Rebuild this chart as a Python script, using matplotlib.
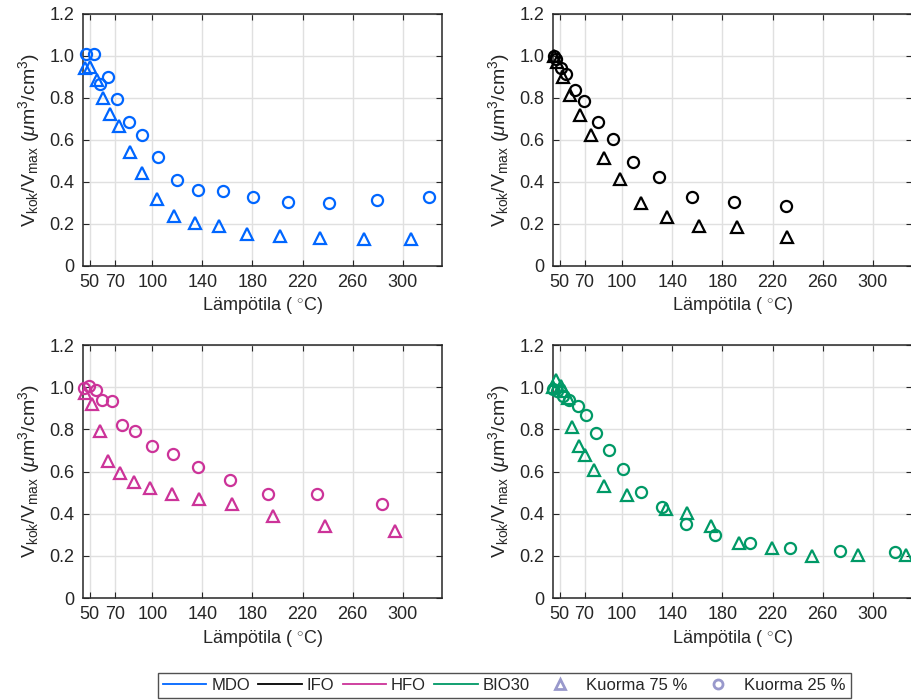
import matplotlib
matplotlib.use("Agg")
import matplotlib.pyplot as plt
from matplotlib.lines import Line2D

plt.rcParams["font.family"] = ["Liberation Sans", "DejaVu Sans"]
plt.rcParams["mathtext.fontset"] = "custom"
plt.rcParams["mathtext.rm"] = "Liberation Sans"
plt.rcParams["mathtext.it"] = "Liberation Sans:italic"

# ---- data ----
MDO_T75 = [46.6, 50, 55.9, 60.7, 66.6, 73.8, 82.6, 91.9, 103.9, 117.2, 134.3,
           153.5, 175.9, 202, 233.5, 268.7, 306.6]
MDO_V75 = [0.941, 0.949, 0.886, 0.802, 0.724, 0.668, 0.544, 0.444, 0.317, 0.238,
           0.206, 0.19, 0.151, 0.144, 0.135, 0.129, 0.129]
MDO_T25 = [47.4, 53.2, 58, 64.7, 71.9, 81.5, 91.9, 104.4, 119.4, 136.2, 156.4,
           180.7, 208.2, 241, 279.6, 320.5]
MDO_V25 = [1.008, 1.008, 0.865, 0.898, 0.794, 0.687, 0.622, 0.517, 0.411, 0.362,
           0.357, 0.329, 0.306, 0.302, 0.313, 0.330]

IFO_T75 = [45.5, 47.9, 52.7, 58.5, 66.5, 74.7, 85.8, 98.5, 115, 135.4, 161.4,
           191.9, 231.7]
IFO_V75 = [1.0, 0.973, 0.90, 0.812, 0.72, 0.626, 0.515, 0.412, 0.298, 0.231,
           0.192, 0.187, 0.137]
IFO_T25 = [45.5, 47, 50.8, 55.3, 62.2, 69.9, 80.5, 93, 108.3, 129.6, 156.1,
           189.5, 230.9]
IFO_V25 = [1.0, 0.985, 0.941, 0.914, 0.838, 0.787, 0.687, 0.605, 0.494, 0.422,
           0.330, 0.303, 0.286]

HFO_T75 = [46.6, 51.9, 58, 64.7, 74, 85.2, 98, 115.9, 137.2, 163.9, 196.7,
           238, 293.8]
HFO_V75 = [0.974, 0.918, 0.792, 0.649, 0.594, 0.549, 0.521, 0.494, 0.470,
           0.445, 0.391, 0.340, 0.320]
HFO_T25 = [45.2, 49.2, 55.1, 59.9, 67.9, 76.2, 86, 99.9, 116.4, 136.2, 161.8,
           192.4, 231.1, 283.4]
HFO_V25 = [0.997, 1.008, 0.989, 0.939, 0.934, 0.823, 0.792, 0.723, 0.685,
           0.621, 0.559, 0.492, 0.492, 0.448]

BIO_T75 = [45, 47.4, 50.8, 53.5, 56.6, 60.1, 65.4, 70.4, 77.1, 85.3, 103.9,
           134.9, 151.9, 171.2, 193.2, 219.7, 251.6, 288.2, 326.4]
BIO_V75 = [1.002, 1.034, 1.005, 0.981, 0.95, 0.812, 0.723, 0.678, 0.609, 0.533,
           0.488, 0.42, 0.402, 0.34, 0.261, 0.237, 0.201, 0.204, 0.204]
BIO_T25 = [45, 47.9, 52.7, 57.2, 64.6, 71.2, 79.2, 89.5, 100.9, 115.3, 131.7,
           150.8, 173.9, 202, 233.8, 273.6, 317.9]
BIO_V25 = [0.992, 0.981, 0.958, 0.939, 0.913, 0.866, 0.784, 0.701, 0.613,
           0.502, 0.431, 0.351, 0.298, 0.261, 0.237, 0.222, 0.218]

FUELS = ["MDO", "IFO", "HFO", "BIO30"]
COLORS = ["#0066ff", "#000000", "#cc3399", "#009966"]
SERIES = [
    (MDO_T75, MDO_V75, MDO_T25, MDO_V25),
    (IFO_T75, IFO_V75, IFO_T25, IFO_V25),
    (HFO_T75, HFO_V75, HFO_T25, HFO_V25),
    (BIO_T75, BIO_V75, BIO_T25, BIO_V25),
]
XTICKS = [50, 70, 100, 140, 180, 220, 260, 300]
YTICKS = [0, 0.2, 0.4, 0.6, 0.8, 1.0, 1.2]
YTICKLABELS = ["0", "0.2", "0.4", "0.6", "0.8", "1.0", "1.2"]

LEGEND_MARKER = "#9999cc"
TXT = "#262626"

fig = plt.figure(figsize=(9.12, 7.0), dpi=100)

W, H = 0.3936, 0.36
positions = [
    (0.0907, 0.620, W, H),
    (0.6060, 0.620, W, H),
    (0.0907, 0.1457, W, 0.3614),
    (0.6060, 0.1457, W, 0.3614),
]

for pos, color, (t75, v75, t25, v25) in zip(positions, COLORS, SERIES):
    ax = fig.add_axes(pos)
    ax.plot(t75, v75, linestyle="none", marker="^", ms=9, mfc="none",
            mec=color, mew=1.6, clip_on=False, zorder=3)
    ax.plot(t25, v25, linestyle="none", marker="o", ms=8, mfc="none",
            mec=color, mew=1.6, clip_on=False, zorder=3)
    ax.set_xlim(44.5, 331)
    ax.set_ylim(0, 1.2)
    ax.set_xticks(XTICKS)
    ax.set_yticks(YTICKS)
    ax.set_yticklabels(YTICKLABELS)
    ax.grid(True, color="#e0e0e0", linewidth=1.0)
    ax.set_axisbelow(True)
    ax.tick_params(direction="in", length=4, width=0.8, colors=TXT,
                   labelsize=13, top=True, right=True, pad=6)
    for sp in ax.spines.values():
        sp.set_color(TXT)
        sp.set_linewidth(1.1)
    ax.set_xlabel("Lämpötila ( $^{\\circ}$C)", fontsize=13, color=TXT,
                  labelpad=3)
    ax.set_ylabel(r"V$_{\mathrm{kok}}$/V$_{\mathrm{max}}$ ($\mu$m$^3$/cm$^3$)",
                  fontsize=14, color=TXT, labelpad=5)

handles = [Line2D([], [], color=c, linewidth=1.3) for c in COLORS]
handles += [
    Line2D([], [], linestyle="none", marker="^", ms=6.5, mfc="none",
           mec=LEGEND_MARKER, mew=2.0),
    Line2D([], [], linestyle="none", marker="o", ms=6.5, mfc="none",
           mec=LEGEND_MARKER, mew=2.0),
]
labels = FUELS + ["Kuorma 75 %", "Kuorma 25 %"]
leg = fig.legend(handles, labels, loc="center", bbox_to_anchor=(0.553, 0.0214),
                 ncol=6, fontsize=12, frameon=True, fancybox=False,
                 handlelength=2.6, handletextpad=0.3, columnspacing=0.5,
                 borderpad=0.3, edgecolor=TXT)
leg.get_frame().set_linewidth(1.0)
for t in leg.get_texts():
    t.set_color(TXT)

fig.savefig("out.png", dpi=100)
